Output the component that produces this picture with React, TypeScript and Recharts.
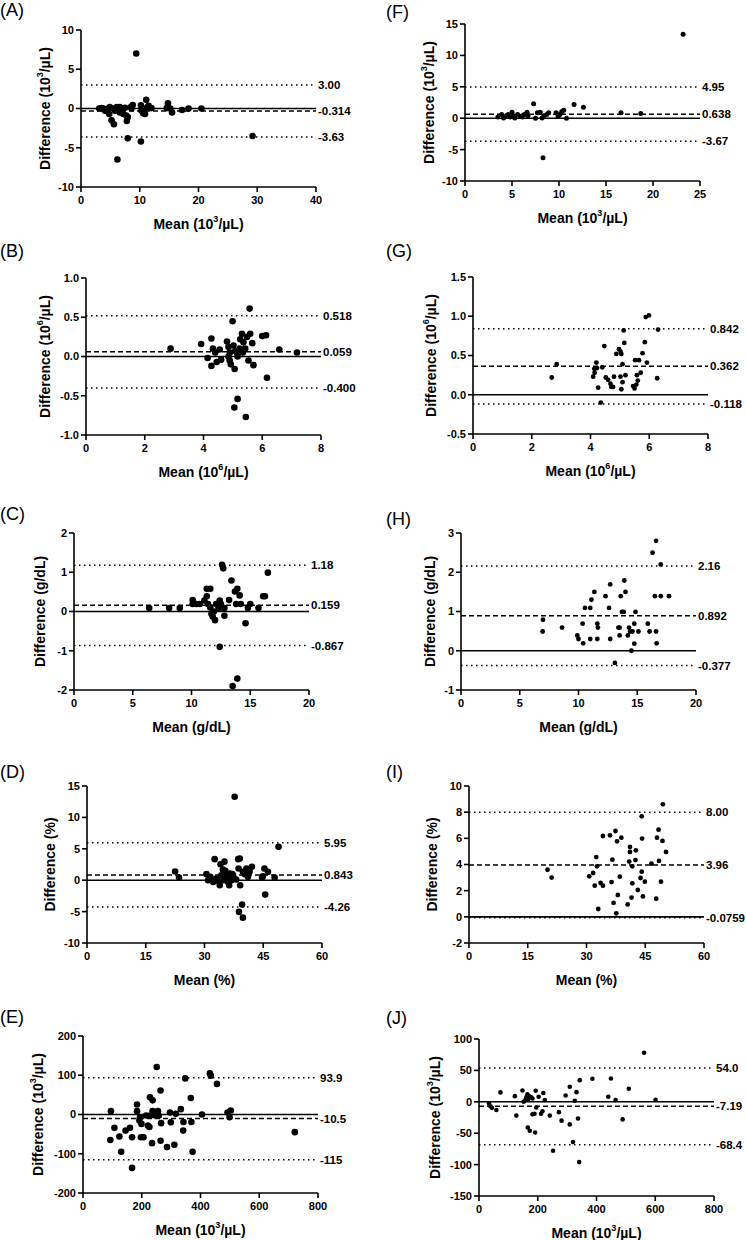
import React from "react"
import { ScatterChart, Scatter, XAxis, YAxis, ReferenceLine } from "recharts"

// [mean, difference] pairs
const pointsA = [
  [3.1, 0], [3.5, 0.05], [3.8, 0], [4.1, -0.3], [4.7, 0], [4.9, 0.2], [4.8, -0.7], [5.2, -1.5],
  [5.6, -2.0], [5.5, 0], [5.8, -0.3], [6.1, 0.2], [6.4, 0], [6.6, 0.2], [6.6, -0.5], [6.9, -0.3],
  [7.2, -0.7], [7.5, 0.1], [7.7, -0.9], [7.8, -1.6], [7.95, -1.1], [7.95, -3.8], [8.5, 0.2], [8.6, 0],
  [8.8, 0.45], [9.4, 7.0], [6.2, -6.5], [10.2, 0.4], [10.3, -0.3], [10.6, -0.6], [10.9, -0.7],
  [11.1, 1.1], [11.2, 0.1], [11.5, 0.35], [12.0, 0.05], [10.2, -4.2], [14.6, 0.05], [14.8, 0.65],
  [15.2, 0], [15.5, -0.5], [17.2, -0.2], [18.3, 0], [20.5, 0], [29.2, -3.5],
]
const pointsB = [
  [2.88, 0.1], [3.92, 0.16], [4.27, 0.23], [4.14, -0.02], [4.27, -0.12], [4.32, 0.1], [4.4, 0.05],
  [4.45, -0.07], [4.55, 0.09], [4.6, -0.04], [4.8, 0.19], [4.85, 0.12], [4.9, 0.05], [4.89, -0.05],
  [4.93, -0.1], [4.99, 0.45], [5.02, 0.14], [5.08, 0.07], [5.06, -0.16], [5.16, 0], [5.23, 0.1],
  [5.25, 0.22], [5.31, 0.29], [5.36, 0.18], [5.42, 0.1], [5.48, 0.25], [5.57, 0.61], [5.59, 0.29],
  [5.53, -0.05], [5.66, 0.17], [5.7, -0.11], [5.05, -0.65], [5.16, -0.54], [5.44, -0.77], [6.0, 0.26],
  [6.13, 0.27], [6.16, -0.27], [6.58, 0.09], [7.18, 0.05], [4.85, 0], [5.14, 0.05], [5.34, 0.05],
]
const pointsC = [
  [6.4, 0.09], [8.1, 0.09], [9.0, 0.09], [10.1, 0.29], [10.1, 0.19], [10.4, 0.19], [10.7, 0.19],
  [11.1, 0.28], [11.3, 0.58], [11.6, 0.58], [11.3, 0.39], [11.4, 0.19], [11.6, 0.1], [11.7, -0.06],
  [11.8, -0.13], [11.9, 0], [12.0, -0.22], [12.1, 0.19], [12.3, 0.09], [12.4, 0.28], [12.5, 0.19],
  [12.6, 0.1], [12.6, 1.19], [12.7, 1.1], [12.4, -0.9], [12.8, 0.09], [12.8, -0.11], [13.2, 0.29],
  [13.4, 0.79], [13.5, -1.9], [13.9, -1.71], [13.7, 0.51], [13.9, 0.58], [13.8, 0.19], [14.1, 0.41],
  [14.2, 0.19], [14.6, -0.3], [14.8, 0.09], [15.0, 0.19], [15.7, 0.09], [16.1, 0.39], [16.25, 0.39],
  [16.5, 0.99],
]
const pointsD = [
  [22.5, 1.38], [23.5, 0.43], [30.5, 0.96], [30.9, 0], [31.5, 0.53], [32.2, -0.27], [32.6, 3.35],
  [33.0, 0.27], [33.4, -0.1], [33.9, -0.8], [34.1, 2.55], [34.3, 0.8], [34.7, 1.7], [34.9, 0],
  [35.1, 2.95], [35.3, 1.49], [35.6, 0.53], [36.0, -0.27], [36.3, -0.8], [36.4, 1.06], [36.9, 0.8],
  [37.1, 0.96], [37.7, 13.3], [38.1, 0.1], [38.6, 3.35], [39.0, 3.46], [38.7, 1.86], [38.8, -5.05],
  [39.1, -0.8], [39.6, -3.88], [39.8, -5.96], [39.8, 1.33], [40.3, 0.96], [40.7, 1.86], [41.1, 0.53],
  [41.5, 1.33], [42.1, 2.13], [44.7, 0.43], [44.9, 0.64], [45.3, 1.86], [45.5, -2.29], [46.2, 1.33],
  [47.9, 0.43], [48.9, 5.32], [37.3, 0.8], [36.9, 0],
]
const pointsE = [
  [95, 8.5], [93, -65], [107, -34], [124, -56], [130, -95], [145, -41], [160, -34], [167, -136],
  [167, -58], [184, 25.5], [184, 8.5], [194, -7], [199, -24], [197, -58], [206, -58], [215, -2.5],
  [221, -28], [226, -32], [228, 44], [229, -2.5], [235, -73], [237, 36], [237, 8.5], [246, -2.5],
  [251, 121], [255, 8.5], [258, -2.5], [264, 61], [266, -22], [264, -67], [286, -83], [296, 5],
  [299, -20], [311, -77], [316, 1.7], [333, 13.6], [341, -41], [342, -19], [348, 92], [367, 42],
  [369, -19], [373, -95], [405, 0], [432, 105], [435, 99], [456, 78], [492, 5], [499, -7], [503, 10],
  [721, -45], [192, -15],
]
const pointsF = [
  [23.2, 13.35], [16.6, 0.85], [18.7, 0.75], [11.6, 2.2], [12.6, 1.75], [7.3, 2.3], [8.3, -6.3],
  [3.5, 0.2], [3.9, 0.6], [4.1, 0.05], [4.4, 0.4], [4.6, 0.6], [4.8, 0.2], [5.0, 0.95], [5.1, 0.3],
  [5.3, 0.05], [5.6, 0.6], [5.9, 0.3], [6.1, 0.2], [6.3, 0.6], [6.6, 0.95], [6.7, 0.4], [7.5, 0],
  [7.7, 0.85], [8.0, 0.95], [8.2, 0.05], [8.4, 0.4], [8.7, 0.6], [8.9, 0.85], [9.7, 0.85], [9.9, 0.3],
  [10.1, 0.6], [10.3, 1.05], [10.5, 1.25], [10.8, 0],
]
const pointsG = [
  [2.68, 0.22], [2.85, 0.39], [4.2, 0.41], [4.09, 0.23], [4.14, 0.28], [4.26, 0.09], [4.35, -0.1],
  [4.47, 0.62], [4.13, 0.33], [4.22, 0.34], [4.4, 0.35], [4.52, 0.22], [4.6, 0.19], [4.68, 0.14],
  [4.71, 0.1], [4.77, 0.1], [4.8, 0.23], [4.88, 0.52], [4.97, 0.58], [5.02, 0.55], [5.05, 0.52],
  [5.09, 0.39], [5.02, 0.23], [5.05, 0.07], [5.09, 0.16], [5.13, 0.82], [5.15, 0.66], [5.19, 0.25],
  [5.45, 0.11], [5.5, 0.08], [5.52, 0.44], [5.58, 0.25], [5.61, 0.18], [5.65, 0.44], [5.71, 0.28],
  [5.77, 0.53], [5.85, 0.67], [5.88, 0.99], [5.99, 1.01], [5.92, 0.41], [6.3, 0.83], [6.27, 0.21],
  [5.56, 0.13],
]
const pointsH = [
  [6.98, 0.79], [6.95, 0.49], [8.6, 0.59], [9.9, 0.39], [10.0, 0.3], [10.35, 0.69], [10.4, 0.19],
  [10.55, 1.09], [11.0, 1.09], [11.1, 1.3], [11.0, 0.3], [11.35, 1.5], [11.6, 0.69], [11.65, 0.59],
  [11.6, 0.3], [12.3, 1.39], [12.6, 1.09], [12.7, 1.69], [12.7, 0.3], [13.1, -0.31], [13.4, 0.59],
  [13.5, 0.59], [13.5, 0.39], [13.6, 1.39], [13.7, 0.99], [13.85, 0.99], [13.9, 1.79], [14.0, 1.5],
  [14.2, 0.39], [14.3, 0.59], [14.4, 0.49], [14.5, 0], [14.6, 0.49], [14.75, 0.18], [14.75, 0.69],
  [14.85, 0.99], [15.1, 0.49], [15.9, 0.69], [16.05, 0.49], [16.3, 2.5], [16.6, 2.8], [16.5, 1.39],
  [16.6, 0.49], [16.65, 0.19], [17.0, 2.2], [17.0, 1.39], [17.7, 1.39],
]
const pointsI = [
  [20.05, 3.6], [21.1, 3.0], [30.7, 3.1], [31.7, 3.35], [32.1, 2.38], [32.5, 4.57], [32.7, 3.86],
  [33.0, 0.6], [33.6, 2.59], [34.2, 2.38], [34.2, 6.18], [36.0, 6.23], [36.4, 2.66], [36.6, 4.37],
  [36.9, 1.06], [37.4, 6.56], [37.8, 5.77], [37.6, 0.27], [38.0, 1.67], [38.5, 3.07], [38.9, 6.05],
  [40.5, 0.95], [40.9, 4.22], [41.1, 5.34], [41.1, 4.96], [41.5, 1.47], [41.7, 2.56], [41.7, 3.86],
  [42.6, 5.08], [42.5, 4.34], [43.1, 2.05], [43.8, 2.97], [44.1, 3.45], [44.1, 7.68], [44.2, 5.98],
  [44.4, 1.56], [44.9, 2.69], [46.6, 4.06], [47.8, 1.39], [48.0, 6.05], [48.4, 6.66], [48.5, 4.27],
  [49.0, 2.69], [49.4, 5.8], [49.5, 8.6], [50.3, 4.96],
]
const pointsJ = [
  [34, -2.7], [39, -7], [44, -9.6], [59, -13], [73, 15], [122, 9], [127, -22], [148, 18], [152, 0],
  [158, 2.7], [161, 7], [165, 12], [167, 3.7], [170, 9], [166, -41], [173, -46], [178, 7], [182, 5.3],
  [182, -20], [189, -19], [191, -49], [193, 17.5], [195, -9], [203, 8], [211, -19], [216, -15],
  [219, 14], [224, 2.7], [241, -22], [272, -16.5], [281, -30], [295, 10], [309, 24], [309, -36],
  [320, -64], [252, -78], [326, 1.6], [332, 15.4], [337, -26.6], [343, 34.5], [341, -96], [386, 36.7],
  [440, 8], [449, 37], [465, 2.7], [489, -28], [510, 20.7], [562, 78], [601, 3.2],
]

// mean, upper and lower limits of agreement with their printed labels
const limitsA = [-0.314, 3.0, -3.63]
const limitsB = [0.059, 0.518, -0.4]
const limitsC = [0.159, 1.18, -0.867]
const limitsD = [0.843, 5.95, -4.26]
const limitsE = [-10.5, 93.9, -115]
const limitsF = [0.638, 4.95, -3.67]
const limitsG = [0.362, 0.842, -0.118]
const limitsH = [0.892, 2.16, -0.377]
const limitsI = [3.96, 8.0, -0.0759]
const limitsJ = [-7.19, 54.0, -68.4]

const labelsA = ["-0.314", "3.00", "-3.63"]
const labelsB = ["0.059", "0.518", "-0.400"]
const labelsC = ["0.159", "1.18", "-0.867"]
const labelsD = ["0.843", "5.95", "-4.26"]
const labelsE = ["-10.5", "93.9", "-115"]
const labelsF = ["0.638", "4.95", "-3.67"]
const labelsG = ["0.362", "0.842", "-0.118"]
const labelsH = ["0.892", "2.16", "-0.377"]
const labelsI = ["3.96", "8.00", "-0.0759"]
const labelsJ = ["-7.19", "54.0", "-68.4"]

const xTicksWbc = [0, 10, 20, 30, 40]
const xTicksWbc2 = [0, 5, 10, 15, 20, 25]
const xTicksRbc = [0, 2, 4, 6, 8]
const xTicksHgb = [0, 5, 10, 15, 20]
const xTicksHct = [0, 15, 30, 45, 60]
const xTicksPlt = [0, 200, 400, 600, 800]

const yTicksA = [-10, -5, 0, 5, 10]
const yTicksF = [-10, -5, 0, 5, 10, 15]
const yTicksB = [-1, -0.5, 0, 0.5, 1]
const yTicksG = [-0.5, 0, 0.5, 1, 1.5]
const yTicksC = [-2, -1, 0, 1, 2]
const yTicksH = [-1, 0, 1, 2, 3]
const yTicksD = [-10, -5, 0, 5, 10, 15]
const yTicksI = [-2, 0, 2, 4, 6, 8, 10]
const yTicksE = [-200, -100, 0, 100, 200]
const yTicksJ = [-150, -100, -50, 0, 50, 100]

const FONT = '"Liberation Sans", Arial, Helvetica, sans-serif'
const YW = 70
const MT = 10
const PW = 235
const PH = 157

function unitText(unit: string) {
  if (unit === "e3" || unit === "e6") {
    return [
      <tspan key="a">(10</tspan>,
      <tspan key="b" dy={-5} fontSize={9}>{unit === "e3" ? "3" : "6"}</tspan>,
      <tspan key="c" dy={5}>/µL)</tspan>,
    ]
  }
  return unit === "gdl" ? "(g/dL)" : "(%)"
}

const panels = [
  { letter: "A", pts: pointsA, lim: limitsA, lab: labelsA, xt: xTicksWbc, yt: yTicksA, dec: 0, unit: "e3", ax: 81, top: 30, lx: 0, ly: 10, r: 3.3, td: 36 },
  { letter: "B", pts: pointsB, lim: limitsB, lab: labelsB, xt: xTicksRbc, yt: yTicksB, dec: 1, unit: "e6", ax: 86, top: 278, lx: 0, ly: 251, r: 3.3, td: 41 },
  { letter: "C", pts: pointsC, lim: limitsC, lab: labelsC, xt: xTicksHgb, yt: yTicksC, dec: 0, unit: "gdl", ax: 74, top: 533, lx: 0, ly: 514, r: 3.3, td: 34 },
  { letter: "D", pts: pointsD, lim: limitsD, lab: labelsD, xt: xTicksHct, yt: yTicksD, dec: 0, unit: "pct", ax: 87, top: 786, lx: 0, ly: 772, r: 3.3, td: 37 },
  { letter: "E", pts: pointsE, lim: limitsE, lab: labelsE, xt: xTicksPlt, yt: yTicksE, dec: 0, unit: "e3", ax: 83, top: 1036, lx: 0, ly: 1017, r: 3.3, td: 45 },
  { letter: "F", pts: pointsF, lim: limitsF, lab: labelsF, xt: xTicksWbc2, yt: yTicksF, dec: 0, unit: "e3", ax: 465, top: 24, lx: 386, ly: 12, r: 2.5, td: 36 },
  { letter: "G", pts: pointsG, lim: limitsG, lab: labelsG, xt: xTicksRbc, yt: yTicksG, dec: 1, unit: "e6", ax: 473, top: 277, lx: 386, ly: 251, r: 2.4, td: 42 },
  { letter: "H", pts: pointsH, lim: limitsH, lab: labelsH, xt: xTicksHgb, yt: yTicksH, dec: 0, unit: "gdl", ax: 461, top: 533, lx: 386, ly: 519, r: 2.4, td: 31 },
  { letter: "I", pts: pointsI, lim: limitsI, lab: labelsI, xt: xTicksHct, yt: yTicksI, dec: 0, unit: "pct", ax: 469, top: 786, lx: 386, ly: 772, r: 2.4, td: 37 },
  { letter: "J", pts: pointsJ, lim: limitsJ, lab: labelsJ, xt: xTicksPlt, yt: yTicksJ, dec: 0, unit: "e3", ax: 479, top: 1039, lx: 386, ly: 1018, r: 2.3, td: 44 },
]

const axisStyle = { stroke: "#000", strokeWidth: 1.6 }
const tickStyle = { fill: "#000", fontSize: 11, fontWeight: 700, fontFamily: FONT }
const refLabel = (value: string) => ({
  value,
  position: "right" as const,
  offset: 2,
  fill: "#000",
  fontSize: 11.5,
  fontWeight: 700,
  fontFamily: FONT,
})

function Panel({ p }: { p: (typeof panels)[number] }) {
  const data = p.pts.map(([x, y]) => ({ x, y }))
  const xd = [p.xt[0], p.xt[p.xt.length - 1]]
  const yd = [p.yt[0], p.yt[p.yt.length - 1]]
  const dot = (s: any) => <circle cx={s.cx} cy={s.cy} r={p.r} fill="#000" />

  const yTitle = () => {
    const cx = YW - p.td
    const cy = MT + PH / 2
    return (
      <text
        x={cx}
        y={cy}
        transform={`rotate(-90 ${cx} ${cy})`}
        textAnchor="middle"
        dominantBaseline="central"
        fill="#000"
        fontSize={14}
        fontWeight={700}
        fontFamily={FONT}
      >
        <tspan>Difference </tspan>
        {unitText(p.unit)}
      </text>
    )
  }
  const xTitle = () => (
    <text
      x={YW + PW / 2}
      y={MT + PH + 37}
      textAnchor="middle"
      dominantBaseline="central"
      fill="#000"
      fontSize={14}
      fontWeight={700}
      fontFamily={FONT}
    >
      <tspan>Mean </tspan>
      {unitText(p.unit)}
    </text>
  )

  return (
    <>
      <div
        style={{
          position: "absolute",
          left: p.lx,
          top: p.ly - 10,
          fontSize: 18,
          lineHeight: "20px",
          fontFamily: FONT,
        }}
      >
        ({p.letter})
      </div>
      <div style={{ position: "absolute", left: p.ax - YW, top: p.top - MT }}>
        <ScatterChart width={YW + PW + 60} height={MT + PH + 45} margin={{ top: MT, right: 60, bottom: 5, left: 0 }}>
          <XAxis
            type="number"
            dataKey="x"
            domain={xd}
            ticks={p.xt}
            interval={0}
            allowDataOverflow
            height={40}
            axisLine={axisStyle}
            tickLine={axisStyle}
            tickSize={5}
            tickMargin={4}
            tick={tickStyle}
            label={xTitle}
          />
          <YAxis
            type="number"
            dataKey="y"
            domain={yd}
            ticks={p.yt}
            interval={0}
            allowDataOverflow
            width={YW}
            axisLine={axisStyle}
            tickLine={axisStyle}
            tickSize={5}
            tick={tickStyle}
            tickFormatter={(v: number) => v.toFixed(p.dec)}
            label={yTitle}
          />
          <ReferenceLine y={0} stroke="#000" strokeWidth={1.6} />
          <ReferenceLine y={p.lim[0]} stroke="#000" strokeWidth={1.5} strokeDasharray="5 3" label={refLabel(p.lab[0])} />
          <ReferenceLine y={p.lim[1]} stroke="#000" strokeWidth={1.5} strokeDasharray="1.5 3.5" label={refLabel(p.lab[1])} />
          <ReferenceLine y={p.lim[2]} stroke="#000" strokeWidth={1.5} strokeDasharray="1.5 3.5" label={refLabel(p.lab[2])} />
          <Scatter data={data} dataKey="y" isAnimationActive={false} shape={dot} />
        </ScatterChart>
      </div>
    </>
  )
}

export default function App() {
  return (
    <div
      style={{
        position: "absolute",
        left: 0,
        top: 0,
        width: 746,
        height: 1240,
        background: "#fff",
        overflow: "hidden",
      }}
    >
      {panels.map((p) => (
        <Panel key={p.letter} p={p} />
      ))}
    </div>
  )
}
